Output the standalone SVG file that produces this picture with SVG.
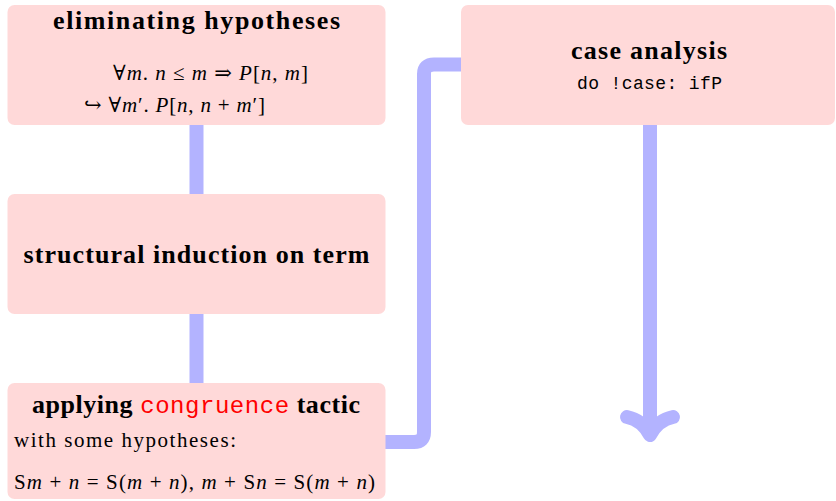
<svg xmlns="http://www.w3.org/2000/svg" width="836" height="501" viewBox="0 0 836 501">
<style>
.box{fill:#ffd9d9;}
.t{font-family:"Liberation Serif","DejaVu Serif",serif;font-weight:bold;font-size:26px;fill:#000;text-anchor:middle;}
.m{font-family:"Liberation Serif","DejaVu Serif",serif;font-size:21px;fill:#000;}
.i{font-style:italic;}
.tt{font-family:"Liberation Mono","DejaVu Sans Mono",monospace;}
.c{fill:none;stroke:#b3b3ff;stroke-width:14;stroke-linejoin:round;}
</style>
<g id="connectors">
<line class="c" x1="196.5" y1="125" x2="196.5" y2="194"/>
<line class="c" x1="196.5" y1="314" x2="196.5" y2="383"/>
<path class="c" d="M385,442 H414 Q424,442 424,432 V74 Q424,64.5 434,64.5 H461"/>
<line class="c" x1="650" y1="125" x2="650" y2="430"/>
<path class="c" d="M627,417 Q642,420 650,435 Q658,420 673,417" stroke-linecap="round"/>
</g>
<g id="n1">
<rect class="box" x="7.5" y="5" width="378" height="120" rx="7"/>
<text class="t" x="196.5" y="29" textLength="287">eliminating hypotheses</text>
<text class="m" x="113" y="80" textLength="195"><tspan>∀</tspan><tspan class="i">m</tspan><tspan>. </tspan><tspan class="i">n</tspan><tspan> ≤ </tspan><tspan class="i">m</tspan><tspan> ⇒ </tspan><tspan class="i">P</tspan><tspan>[</tspan><tspan class="i">n</tspan><tspan>, </tspan><tspan class="i">m</tspan><tspan>]</tspan></text>
<text class="m" x="84" y="112" textLength="181"><tspan>↪ ∀</tspan><tspan class="i">m</tspan><tspan>′. </tspan><tspan class="i">P</tspan><tspan>[</tspan><tspan class="i">n</tspan><tspan>, </tspan><tspan class="i">n</tspan><tspan> + </tspan><tspan class="i">m</tspan><tspan>′]</tspan></text>
</g>
<g id="n2">
<rect class="box" x="7.5" y="194" width="378" height="120" rx="7"/>
<text class="t" x="196.5" y="263" textLength="346">structural induction on term</text>
</g>
<g id="n3">
<rect class="box" x="7.5" y="383" width="378" height="116" rx="7"/>
<text class="t" x="196" y="413" textLength="328">applying <tspan class="tt" style="font-weight:normal;fill:#ff0000" font-size="24">congruence</tspan> tactic</text>
<text class="m" x="14" y="447" textLength="222">with some hypotheses:</text>
<text class="m" x="14" y="489" textLength="361"><tspan>S</tspan><tspan class="i">m</tspan><tspan> + </tspan><tspan class="i">n</tspan><tspan> = S(</tspan><tspan class="i">m</tspan><tspan> + </tspan><tspan class="i">n</tspan><tspan>), </tspan><tspan class="i">m</tspan><tspan> + S</tspan><tspan class="i">n</tspan><tspan> = S(</tspan><tspan class="i">m</tspan><tspan> + </tspan><tspan class="i">n</tspan><tspan>)</tspan></text>
</g>
<g id="n4">
<rect class="box" x="461" y="5" width="374" height="120" rx="7"/>
<text class="t" x="649" y="59" textLength="156">case analysis</text>
<text class="tt" x="649.5" y="89" font-size="18" text-anchor="middle" textLength="145">do !case: ifP</text>
</g>
</svg>
